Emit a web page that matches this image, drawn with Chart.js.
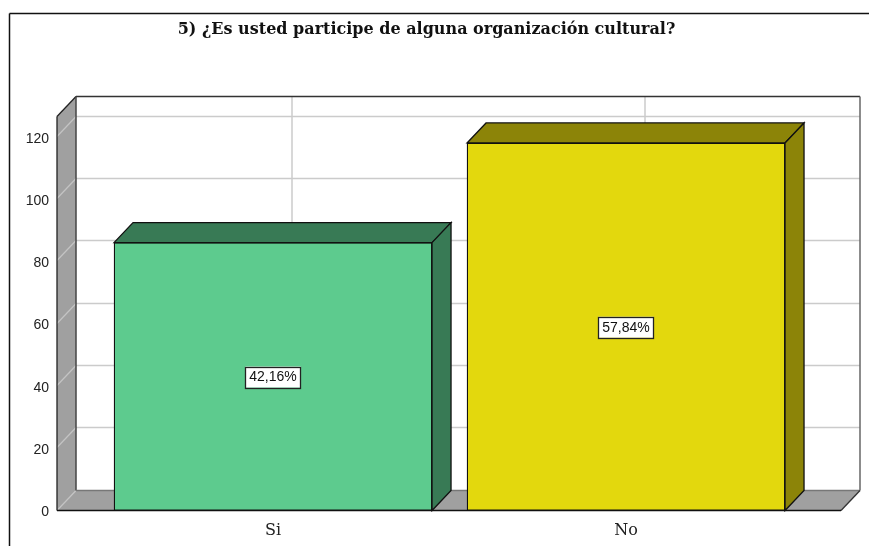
<!DOCTYPE html>
<html><head><meta charset="utf-8">
<style>html,body{margin:0;padding:0;background:#fff}canvas{display:block}</style>
<script src="https://cdn.jsdelivr.net/npm/chart.js@4"></script></head>
<body><canvas id="c" width="869" height="546"></canvas>
<script>
const titleText = '5) ¿Es usted participe de alguna organización cultural?';
const categories = ['Si', 'No'];
const counts = [86, 118];
const percentLabels = ['42,16%', '57,84%'];
const faceColors = ['#5DCB8E', '#E3D80D'];
const topColors = ['#387A55', '#8C8408'];
const yTicks = [0, 20, 40, 60, 80, 100, 120];
const DX = 19, DY = 20, GRID = '#CBCBCB';

function poly(ctx, pts, fill, stroke, lw) {
  ctx.beginPath();
  pts.forEach((p, i) => i ? ctx.lineTo(p[0], p[1]) : ctx.moveTo(p[0], p[1]));
  ctx.closePath();
  if (fill) { ctx.fillStyle = fill; ctx.fill(); }
  if (stroke) { ctx.strokeStyle = stroke; ctx.lineWidth = lw || 1; ctx.stroke(); }
}
function line(ctx, x1, y1, x2, y2, color, lw) {
  ctx.beginPath(); ctx.moveTo(x1, y1); ctx.lineTo(x2, y2);
  ctx.strokeStyle = color; ctx.lineWidth = lw || 1; ctx.stroke();
}
const box3d = {
  id: 'box3d',
  afterLayout(chart) { chart.titleBlock.left += 6; chart.titleBlock.right += 6; },
  beforeDraw(chart) {
    const c = chart.ctx;
    c.save();
    c.fillStyle = '#fff'; c.fillRect(0, 0, chart.width, chart.height);
    line(c, 9.5, 13.5, 869, 13.5, '#111', 1.5);
    line(c, 9.5, 13.5, 9.5, 546, '#111', 1.5);
    c.restore();
  },
  beforeDatasetsDraw(chart) {
    const c = chart.ctx, a = chart.chartArea, x = chart.scales.x, y = chart.scales.y;
    const L = a.left, R = a.right, T = a.top, B = a.bottom;
    c.save();
    poly(c, [[L, T], [L + DX, T - DY], [L + DX, B - DY], [L, B]], '#A0A0A0');
    poly(c, [[L, B], [L + DX, B - DY], [R + DX, B - DY], [R, B]], '#A0A0A0');
    yTicks.forEach(v => {
      const p = Math.round(y.getPixelForValue(v)) - 0.5;
      line(c, L, p, L + DX, p - DY, '#C4C4C4', 1.2);
      if (v > 0) line(c, L + DX, p - DY, R + DX, p - DY, GRID, 1.5);
    });
    categories.forEach((n, i) => {
      const p = Math.round(x.getPixelForValue(i)) + DX;
      line(c, p, T - DY, p, B - DY, GRID, 1.5);
    });
    line(c, L, T, L, B, '#222', 1.3);
    line(c, L, T, L + DX, T - DY, '#222', 1.3);
    line(c, L + DX, T - DY, R + DX, T - DY, '#333', 1.5);
    line(c, L + DX, T - DY, L + DX, B - DY, '#444', 1.5);
    line(c, R + DX, T - DY, R + DX, B - DY, '#666', 1.5);
    line(c, L + DX, B - DY, R + DX, B - DY, '#777', 1.3);
    line(c, R + DX, B - DY, R, B, '#333', 1.3);
    line(c, L, B, R, B, '#111', 1.3);
    c.restore();
  },
  afterDatasetsDraw(chart) {
    const c = chart.ctx;
    c.save();
    chart.getDatasetMeta(0).data.forEach((b, i) => {
      const l = b.x - b.width / 2, r = b.x + b.width / 2, t = b.y, base = b.base;
      poly(c, [[l, t], [l + DX, t - DY], [r + DX, t - DY], [r, t]], topColors[i], '#111', 1.3);
      poly(c, [[r, t], [r + DX, t - DY], [r + DX, base - DY], [r, base]], topColors[i], '#111', 1.3);
      const cy = (t + base) / 2;
      c.font = '14px "Liberation Sans"';
      const w = c.measureText(percentLabels[i]).width + 8;
      c.fillStyle = '#fff'; c.fillRect(b.x - w / 2, cy - 10, w, 21);
      c.strokeStyle = '#222'; c.lineWidth = 1.3;
      c.strokeRect(Math.round(b.x - w / 2) + .5, Math.round(cy - 10) + .5, Math.round(w), 21);
      c.fillStyle = '#111'; c.textAlign = 'center'; c.textBaseline = 'middle';
      c.fillText(percentLabels[i], b.x, cy + 1);
    });
    c.restore();
  }
};

new Chart(document.getElementById('c'), {
  type: 'bar',
  data: {
    datasets: [{
      data: categories.map((n, i) => ({ x: i, y: counts[i] })),
      backgroundColor: faceColors,
      borderColor: '#111',
      borderWidth: 1.3,
      borderSkipped: false,
      barThickness: 318
    }]
  },
  options: {
    responsive: false,
    animation: false,
    layout: { padding: { left: 0, right: 28, top: 0, bottom: 0 } },
    plugins: {
      legend: { display: false },
      tooltip: { enabled: false },
      title: {
        display: true, text: titleText, color: '#111',
        font: { family: '"DejaVu Serif"', weight: 'bold', size: 16, lineHeight: 1.2 },
        padding: { top: 20, bottom: 77.3 }
      }
    },
    scales: {
      x: {
        type: 'linear', min: -0.612, max: 1.609, offset: false,
        afterFit(s) { s.height = 35.5; },
        afterBuildTicks(s) { s.ticks = categories.map((n, i) => ({ value: i })); },
        grid: { display: false, offset: false }, border: { display: false },
        ticks: {
          autoSkip: false, maxRotation: 0, padding: 3, color: '#222',
          font: { family: '"DejaVu Serif"', size: 16 },
          callback: v => categories[v]
        }
      },
      y: {
        min: 0, max: 126.5,
        afterFit(s) { s.width = 57; },
        afterBuildTicks(s) { s.ticks = yTicks.map(v => ({ value: v })); },
        grid: { display: false }, border: { display: false },
        ticks: { padding: 0, labelOffset: 2, color: '#222', font: { family: '"Liberation Sans"', size: 14 } }
      }
    }
  },
  plugins: [box3d]
});
</script></body></html>
